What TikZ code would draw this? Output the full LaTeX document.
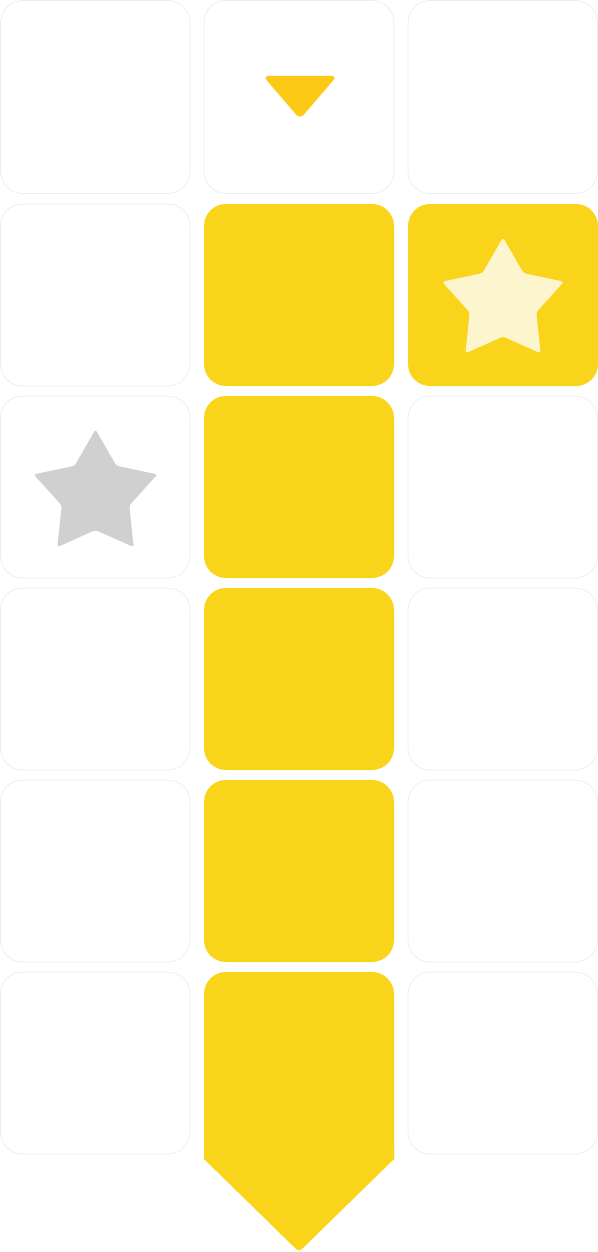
\documentclass[tikz,border=0pt]{standalone}
\begin{document}
\begin{tikzpicture}[x=0.5pt,y=-0.5pt,
  cellline/.style={draw={rgb,255:red,228;green,236;blue,247},line width=0.3pt,fill=white,rounded corners=11pt},
  yelcell/.style={fill={rgb,255:red,249;green,212;blue,26},rounded corners=11pt},
  yelfill/.style={fill={rgb,255:red,249;green,212;blue,26}},
  pointer/.style={fill={rgb,255:red,252;green,201;blue,23},rounded corners=2.5pt},
  starlight/.style={fill={rgb,255:red,253;green,245;blue,206},rounded corners=1.2pt},
  stargray/.style={fill={rgb,255:red,208;green,208;blue,208},rounded corners=1.2pt}]
\useasboundingbox (0,0) rectangle (598,1252);
% white cells
\draw[cellline] (0.5,0.5) rectangle (190,193.5);
\draw[cellline] (204,0.5) rectangle (394,193.5);
\draw[cellline] (408,0.5) rectangle (597.5,193.5);
\foreach \t in {204,396,588,780,972}{
  \draw[cellline] (0.5,\t) rectangle (190,\t+182);
}
\foreach \t in {396,588,780,972}{
  \draw[cellline] (408,\t) rectangle (597.5,\t+182);
}
% yellow cells
\foreach \t in {204,396,588,780}{
  \fill[yelcell] (204,\t) rectangle (394,\t+182);
}
\fill[yelcell] (408,204) rectangle (598,386);
% arrow cell
\fill[yelcell] (204,1160) -- (204,972) -- (394,972) -- (394,1160);
\fill[yelfill] (204,1140) -- (204,1159) -- (293,1246) .. controls (299,1252) .. (305,1246) -- (394,1159) -- (394,1140) -- cycle;
% pointer
\fill[pointer] (263,76) -- (337,76) -- (300,119) -- cycle;
% light star
\begin{scope}[shift={(503,301.5)}]
\fill[starlight] (-90:64) -- (-54:35) -- (-18:64) -- (18:35) -- (54:64) -- (90:35) -- (126:64) -- (162:35) -- (198:64) -- (234:35) -- cycle;
\end{scope}
% gray star
\begin{scope}[shift={(95.5,494.5)}]
\fill[stargray] (-90:65) -- (-54:35.5) -- (-18:65) -- (18:35.5) -- (54:65) -- (90:35.5) -- (126:65) -- (162:35.5) -- (198:65) -- (234:35.5) -- cycle;
\end{scope}
\end{tikzpicture}
\end{document}
